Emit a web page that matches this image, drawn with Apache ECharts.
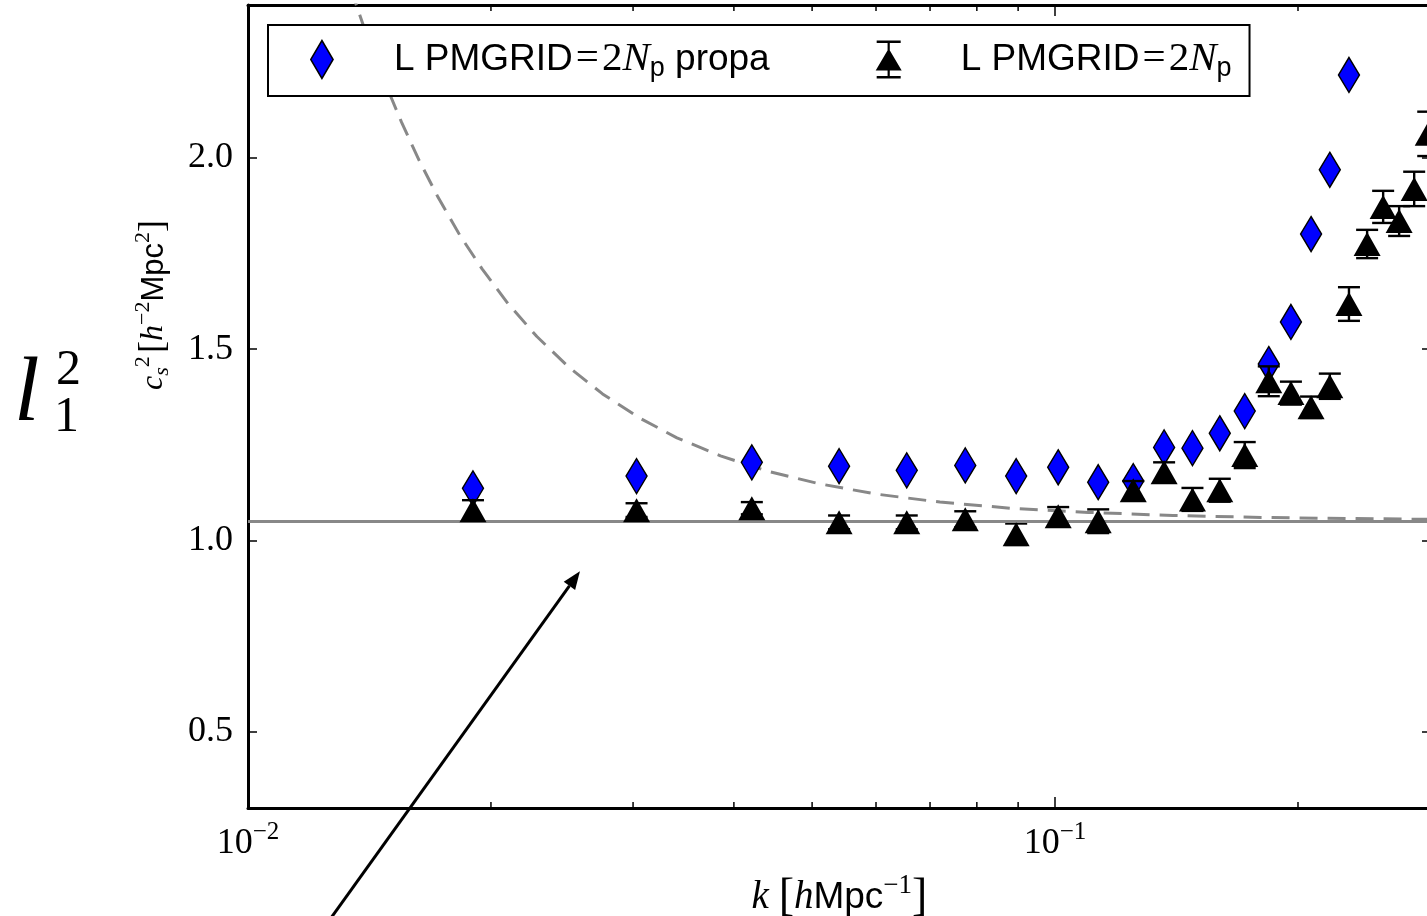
<!DOCTYPE html>
<html>
<head>
<meta charset="utf-8">
<script src="https://cdn.jsdelivr.net/npm/echarts@6/dist/echarts.min.js"></script>
<style>
  html, body { margin: 0; padding: 0; background: #ffffff; }
  #chart { width: 1427px; height: 916px; }
</style>
</head>
<body>
<div id="chart"></div>
<script>
// Wavenumbers k [h/Mpc] of the measured bins
const kBins = [0.0190, 0.0303, 0.0421, 0.0540, 0.0655, 0.0774, 0.0895, 0.1009, 0.1131,
  0.1250, 0.1365, 0.1480, 0.1600, 0.1718, 0.1840, 0.1960, 0.2076, 0.2190, 0.2313,
  0.2436, 0.2550, 0.2669, 0.2786, 0.2900];

// c_s^2 fitted with propagator ("propa"), blue diamonds
const propaValues = [1.136, 1.168, 1.204, 1.194, 1.183, 1.196, 1.168, 1.191, 1.152,
  1.155, 1.243, 1.241, 1.280, 1.338, 1.461, 1.571, 1.801, 1.969, 2.217];

// c_s^2 from the direct fit, black triangles, with 1-sigma errors
const directValues = [1.079, 1.079, 1.084, 1.047, 1.047, 1.055, 1.016, 1.063, 1.050,
  1.131, 1.178, 1.107, 1.131, 1.223, 1.416, 1.385, 1.348, 1.403, 1.618,
  1.775, 1.872, 1.835, 1.919, 2.063];
const directErrors = [0.026, 0.018, 0.016, 0.018, 0.018, 0.021, 0.028, 0.024, 0.031,
  0.024, 0.026, 0.030, 0.030, 0.034, 0.039, 0.030, 0.028, 0.033, 0.044,
  0.037, 0.042, 0.039, 0.045, 0.058];

// Large-scale plateau and the model curve approaching it
const plateauValue = 1.052;
const modelK = [0.0134, 0.0140, 0.0147, 0.0155, 0.0163, 0.0172, 0.0183, 0.0195, 0.0210,
  0.0228, 0.0250, 0.0275, 0.0305, 0.0340, 0.0385, 0.0440, 0.0510, 0.0600, 0.0720,
  0.0880, 0.1100, 0.1400, 0.1800, 0.2300, 0.2920];
const modelValues = [2.444, 2.327, 2.209, 2.093, 1.993, 1.897, 1.798, 1.710, 1.619,
  1.533, 1.452, 1.383, 1.321, 1.268, 1.221, 1.181, 1.148, 1.121, 1.100,
  1.084, 1.073, 1.065, 1.060, 1.057, 1.055];

// Axis ranges and ticks
const kMin = 0.01, kMax = 0.2923;
const yMin = 0.3, yMax = 2.4;
const yTickValues = [0.5, 1.0, 1.5, 2.0];
const xTickLabels = { '0.01': '10|−2', '0.1': '10|−1' };
const kMinorTicks = [0.02, 0.03, 0.04, 0.05, 0.06, 0.07, 0.08, 0.09, 0.2];

// Annotation arrow, in data coordinates (tail, head)
const arrowTail = [0.01250, -0.005];
const arrowHead = [0.02578, 0.919];

const propaName = 'L PMGRID=2Np propa';
const directName = 'L PMGRID=2Np';

const SERIF = '"Liberation Serif", "DejaVu Serif", serif';
const SANS = '"Liberation Sans", "DejaVu Sans", sans-serif';

const propaData = propaValues.map((v, i) => [kBins[i], v]);
const directData = directValues.map((v, i) => [kBins[i], v]);
const errorData = directValues.map((v, i) => [kBins[i], v, directErrors[i]]);
const modelData = modelValues.map((v, i) => [modelK[i], v]);
const minorData = kMinorTicks.map(k => [k, yMin]);

const diamondIcon = 'path://M10 0L20 17L10 34L0 17Z';
const triangleErrIcon = 'path://M1 0H25V2.4H14.1V35.6H25V38H1V35.6H11.9V2.4H1Z M13 8L26 30H0Z';

const chart = echarts.init(document.getElementById('chart'), null, { renderer: 'canvas' });

const axisLineStyle = { color: '#000', width: 3 };

const option = {
  animation: false,
  backgroundColor: '#ffffff',
  grid: { left: 248, top: 5, right: -4, bottom: 108, containLabel: false, outerBoundsMode: 'none' },
  legend: {
    left: 268, top: 25,
    orient: 'horizontal',
    itemWidth: 26, itemHeight: 38,
    itemGap: 106,
    padding: [14, 18, 14, 42],
    borderColor: '#000', borderWidth: 2,
    backgroundColor: '#fff',
    selectedMode: false,
    data: [
      { name: propaName, icon: diamondIcon, itemStyle: { color: '#0000ff', borderColor: '#000', borderWidth: 1.5 } },
      { name: directName, icon: triangleErrIcon, itemStyle: { color: '#000', borderWidth: 0 } }
    ],
    formatter: name => name === propaName
      ? '{g|}{s|L PMGRID}{eq|=}{m|2}{i|N}{sb|p}{s| propa}'
      : '{g|}{s|L PMGRID}{eq|=}{m|2}{i|N}{sb|p}',
    textStyle: {
      color: '#000',
      rich: {
        g: { width: 54 },
        s: { fontFamily: SANS, fontSize: 37, color: '#000' },
        eq: { fontFamily: SERIF, fontSize: 41, color: '#000', padding: [0, 3, 0, 3] },
        m: { fontFamily: SERIF, fontSize: 41, color: '#000' },
        i: { fontFamily: SERIF, fontStyle: 'italic', fontSize: 41, color: '#000' },
        sb: { fontFamily: SANS, fontSize: 27, color: '#000', padding: [18, 0, 0, 0] }
      }
    }
  },
  xAxis: [
    {
      type: 'log', logBase: 10, min: kMin, max: kMax, position: 'bottom',
      axisLine: { show: true, lineStyle: axisLineStyle },
      axisTick: { show: true, inside: true, length: 11, lineStyle: { color: '#000', width: 1.5 } },
      splitLine: { show: false },
      axisLabel: {
        margin: 12,
        formatter: v => {
          const key = String(+v.toPrecision(6));
          const lab = xTickLabels[key];
          if (!lab) return '';
          const parts = lab.split('|');
          return '{b|' + parts[0] + '}{p|' + parts[1] + '}';
        },
        rich: {
          b: { fontFamily: SERIF, fontSize: 36, color: '#000' },
          p: { fontFamily: SERIF, fontSize: 25, color: '#000', padding: [0, 0, 22, 0] }
        }
      },
      name: '{i|k }{n|[}{i|h}{s|Mpc}{p|−1}{n|]}',
      nameLocation: 'middle',
      nameGap: 64,
      nameTextStyle: {
        rich: {
          i: { fontFamily: SERIF, fontStyle: 'italic', fontSize: 39, color: '#000' },
          n: { fontFamily: SERIF, fontSize: 46, color: '#000' },
          s: { fontFamily: SANS, fontSize: 37, color: '#000' },
          p: { fontFamily: SERIF, fontSize: 27, color: '#000', padding: [0, 0, 24, 0] }
        }
      }
    },
    {
      type: 'log', logBase: 10, min: kMin, max: kMax, position: 'top',
      axisLine: { show: true, lineStyle: axisLineStyle },
      axisTick: { show: true, inside: true, length: 11, lineStyle: { color: '#000', width: 1.5 } },
      axisLabel: { show: false },
      splitLine: { show: false }
    }
  ],
  yAxis: [
    {
      type: 'value', min: yMin, max: yMax, position: 'left',
      axisLine: { show: true, lineStyle: axisLineStyle },
      axisTick: { show: true, inside: true, length: 9, lineStyle: { color: '#000', width: 1.5 } },
      splitLine: { show: false },
      axisLabel: {
        margin: 15,
        showMinLabel: false, showMaxLabel: false,
        fontFamily: SERIF, fontSize: 36, color: '#000',
        formatter: v => yTickValues.some(t => Math.abs(t - v) < 1e-9) ? v.toFixed(1) : ''
      }
    },
    {
      type: 'value', min: yMin, max: yMax, position: 'right',
      axisLine: { show: true, lineStyle: axisLineStyle },
      axisTick: { show: true, inside: true, length: 9, lineStyle: { color: '#000', width: 1.5 } },
      axisLabel: { show: false },
      splitLine: { show: false }
    }
  ],
  series: [
    {
      name: 'model',
      type: 'line',
      data: modelData,
      showSymbol: false,
      symbol: 'none',
      clip: true,
      z: 1,
      lineStyle: { color: '#888888', width: 3, type: [18, 10] },
      markLine: {
        silent: true,
        symbol: 'none',
        label: { show: false },
        lineStyle: { color: '#888888', width: 3, type: 'solid' },
        data: [{ yAxis: plateauValue }]
      }
    },
    {
      name: propaName,
      type: 'scatter',
      data: propaData,
      symbol: 'diamond',
      symbolSize: [21, 35],
      z: 3,
      itemStyle: { color: '#0000ff', borderColor: '#000', borderWidth: 1.5, opacity: 1 }
    },
    {
      name: directName,
      type: 'custom',
      data: errorData,
      encode: { x: 0, y: 1 },
      z: 4,
      clip: true,
      renderItem: (params, api) => {
        const k = api.value(0), v = api.value(1), e = api.value(2);
        const top = api.coord([k, v + e]);
        const bot = api.coord([k, v - e]);
        const half = 11;
        const st = { stroke: '#000', lineWidth: 2.4 };
        return {
          type: 'group',
          children: [
            { type: 'line', shape: { x1: top[0], y1: top[1], x2: bot[0], y2: bot[1] }, style: st },
            { type: 'line', shape: { x1: top[0] - half, y1: top[1], x2: top[0] + half, y2: top[1] }, style: st },
            { type: 'line', shape: { x1: bot[0] - half, y1: bot[1], x2: bot[0] + half, y2: bot[1] }, style: st }
          ]
        };
      }
    },
    {
      name: directName,
      type: 'scatter',
      data: directData,
      symbol: 'triangle',
      symbolSize: [27, 24],
      z: 5,
      itemStyle: { color: '#000', opacity: 1 }
    },
    {
      name: 'minorTicks',
      type: 'custom',
      data: minorData,
      encode: { x: 0, y: 1 },
      z: 6,
      silent: true,
      renderItem: (params, api) => {
        const k = api.value(0);
        const b = api.coord([k, yMin]);
        const t = api.coord([k, yMax]);
        const st = { stroke: '#000', lineWidth: 1.5 };
        return {
          type: 'group',
          children: [
            { type: 'line', shape: { x1: b[0], y1: b[1], x2: b[0], y2: b[1] - 6 }, style: st },
            { type: 'line', shape: { x1: t[0], y1: t[1], x2: t[0], y2: t[1] + 6 }, style: st }
          ]
        };
      }
    }
  ]
};

chart.setOption(option);

// Side labels and the annotation arrow, placed from the axis scales
function drawOverlay() {
  const p0 = chart.convertToPixel({ gridIndex: 0 }, arrowTail);
  const p1 = chart.convertToPixel({ gridIndex: 0 }, arrowHead);
  const ang = Math.atan2(p1[1] - p0[1], p1[0] - p0[0]);
  const headLen = 18, headHalf = 7;
  const bx = p1[0] - headLen * Math.cos(ang), by = p1[1] - headLen * Math.sin(ang);
  const nx = -Math.sin(ang), ny = Math.cos(ang);
  chart.setOption({
    graphic: [
      {
        id: 'arrowShaft', type: 'line', z: 50,
        shape: { x1: p0[0], y1: p0[1], x2: bx, y2: by },
        style: { stroke: '#000', lineWidth: 3 }
      },
      {
        id: 'arrowHead', type: 'polygon', z: 50,
        shape: { points: [[p1[0], p1[1]], [bx + nx * headHalf, by + ny * headHalf], [bx - nx * headHalf, by - ny * headHalf]] },
        style: { fill: '#000' }
      },
      {
        id: 'ell', type: 'text', left: 14, top: 350, z: 50,
        style: { text: 'l', fontFamily: SERIF, fontStyle: 'italic', fontSize: 92, fill: '#000' }
      },
      {
        id: 'ellSup', type: 'text', left: 56, top: 346, z: 50,
        style: { text: '2', fontFamily: SERIF, fontSize: 50, fill: '#000' }
      },
      {
        id: 'ellSub', type: 'text', left: 54, top: 393, z: 50,
        style: { text: '1', fontFamily: SERIF, fontSize: 50, fill: '#000' }
      },
      {
        id: 'yName', type: 'text', z: 50,
        x: 154, y: 305, rotation: Math.PI / 2,
        style: {
          text: '{i|c}{sb|s}{sp|2} {n|[}{i|h}{sp|−2}{s|Mpc}{sp|2}{n|]}',
          align: 'center', verticalAlign: 'middle',
          rich: {
            i: { fontFamily: SERIF, fontStyle: 'italic', fontSize: 32, fill: '#000' },
            n: { fontFamily: SERIF, fontSize: 36, fill: '#000' },
            s: { fontFamily: SANS, fontSize: 31, fill: '#000' },
            sb: { fontFamily: SERIF, fontStyle: 'italic', fontSize: 22, fill: '#000', padding: [16, 0, 0, 0] },
            sp: { fontFamily: SERIF, fontSize: 22, fill: '#000', padding: [0, 0, 22, 0] }
          }
        }
      }
    ]
  });
}
drawOverlay();
</script>
</body>
</html>
